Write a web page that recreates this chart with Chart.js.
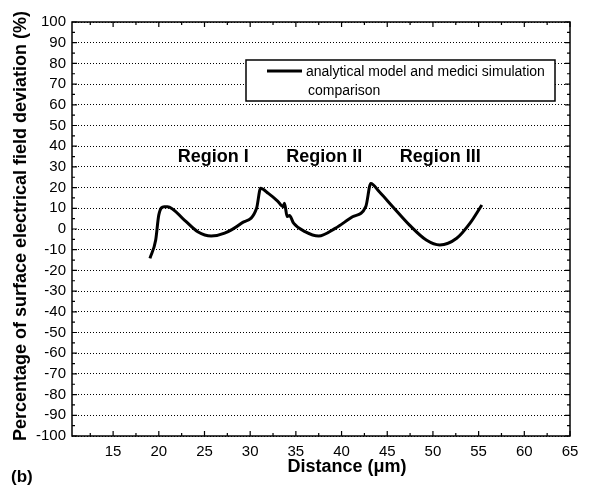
<!DOCTYPE html>
<html><head><meta charset="utf-8">
<script src="https://cdn.jsdelivr.net/npm/chart.js@4/dist/chart.umd.min.js"></script>
<style>html,body{margin:0;padding:0;background:#fff}#wrap{width:589px;height:489px}</style>
</head><body><div id="wrap"><canvas id="c" width="589" height="489"></canvas></div>
<script>
const xValues = [19.03,19.66,20.0,20.58,20.95,22.8,24.26,25.73,27.2,29.04,30.7,31.14,31.99,33.0,33.6,33.75,34.05,34.3,34.75,36.0,37.5,39.3,41.2,42.65,43.2,44.13,45.6,47.44,49.27,50.75,52.6,54.06,55.35];
const yValues = [-14.2,-5.3,6.8,10.8,10.8,4.3,-1.3,-3.4,-2.0,2.8,10.0,19.7,17.2,13.5,10.8,12.4,6.0,6.5,2.8,-1.3,-3.4,0.3,5.9,10.8,22.0,18.0,10.8,1.9,-5.3,-7.7,-4.5,2.8,11.6];
const xTickLabels = [15,20,25,30,35,40,45,50,55,60,65];
const yTickLabels = [-100,-90,-80,-70,-60,-50,-40,-30,-20,-10,0,10,20,30,40,50,60,70,80,90,100];
const regionNames = ["Region I","Region II","Region III"];
const regionX = [25.95,38.1,50.8];
const regionY = [34.8,34.8,34.8];
const seriesLabel = "analytical model and medici simulation comparison";

const FONT = "'Liberation Sans', Arial, sans-serif";
const pts = xValues.map((x,i)=>({x:x,y:yValues[i]}));

const deco = {
  id:'deco',
  afterDraw(chart){
    const ctx = chart.ctx, a = chart.chartArea;
    const xs = chart.scales.x, ys = chart.scales.y;
    ctx.save();
    // border
    ctx.strokeStyle='#000'; ctx.lineWidth=1.5;
    ctx.strokeRect(a.left, a.top, a.right-a.left, a.bottom-a.top);
    // ticks inward
    ctx.lineWidth=1.2;
    ctx.beginPath();
    for(let v=-100; v<=100; v+=5){
      const p = ys.getPixelForValue(v);
      const L = (v%10===0)?5:3;
      ctx.moveTo(a.left,p); ctx.lineTo(a.left+L,p);
      ctx.moveTo(a.right,p); ctx.lineTo(a.right-L,p);
    }
    for(let v=12.5; v<=65; v+=2.5){
      const p = xs.getPixelForValue(v);
      const L = (v%5===0)?5:3;
      ctx.moveTo(p,a.bottom); ctx.lineTo(p,a.bottom-L);
      ctx.moveTo(p,a.top); ctx.lineTo(p,a.top+L);
    }
    ctx.stroke();
    // region labels
    ctx.fillStyle='#000';
    ctx.font = "bold 18px "+FONT;
    ctx.textAlign='center'; ctx.textBaseline='middle';
    regionNames.forEach((n,i)=>{
      ctx.fillText(n, xs.getPixelForValue(regionX[i]), ys.getPixelForValue(regionY[i]));
    });
    // legend
    const bx=246, by=60, bw=309, bh=41;
    ctx.fillStyle='#fff'; ctx.fillRect(bx,by,bw,bh);
    ctx.lineWidth=1.5; ctx.strokeStyle='#000'; ctx.strokeRect(bx,by,bw,bh);
    ctx.lineWidth=3; ctx.beginPath(); ctx.moveTo(267,71); ctx.lineTo(302,71); ctx.stroke();
    ctx.fillStyle='#000'; ctx.font="14px "+FONT; ctx.textAlign='left'; ctx.textBaseline='middle';
    const words = seriesLabel.split(' ');
    ctx.fillText(words.slice(0,5).join(' '), 306, 72);
    ctx.fillText(words.slice(5).join(' '), 308, 91);
    // axis titles
    ctx.font="bold 18px "+FONT; ctx.textAlign='center';
    ctx.fillText("Distance (\u03bcm)", 347, 467);
    ctx.save();
    ctx.translate(21, 226);
    ctx.rotate(-Math.PI/2);
    ctx.fillText("Percentage of surface electrical field deviation (%)", 0, 0);
    ctx.restore();
    ctx.font="bold 17px "+FONT;
    ctx.textAlign='left';
    ctx.fillText("(b)", 11, 477);
    ctx.restore();
  }
};

new Chart(document.getElementById('c'), {
  type:'line',
  data:{datasets:[{label:seriesLabel, data:pts, borderColor:'#000', borderWidth:3, pointRadius:0, fill:false, cubicInterpolationMode:'monotone'}]},
  options:{
    responsive:false, animation:false,
    layout:{padding:{top:22,right:19,left:0,bottom:0}},
    plugins:{legend:{display:false}, tooltip:{enabled:false}},
    scales:{
      x:{type:'linear', min:10.5, max:65,
        afterBuildTicks(s){ s.ticks = xTickLabels.map(v=>({value:v})); },
        afterFit(s){ s.height = 53; },
        grid:{display:false, drawTicks:false},
        border:{display:false},
        ticks:{color:'#000', font:{family:FONT, size:15}, padding:7, maxRotation:0, autoSkip:false}
      },
      y:{type:'linear', min:-100, max:100,
        afterBuildTicks(s){ s.ticks = yTickLabels.map(v=>({value:v})); },
        afterFit(s){ s.width = 72; },
        grid:{display:true, drawTicks:false, color:'#000', lineWidth:1},
        border:{display:false, dash:[1,2]},
        ticks:{color:'#000', font:{family:FONT, size:15}, padding:6, autoSkip:false}
      }
    }
  },
  plugins:[deco]
});
</script></body></html>
